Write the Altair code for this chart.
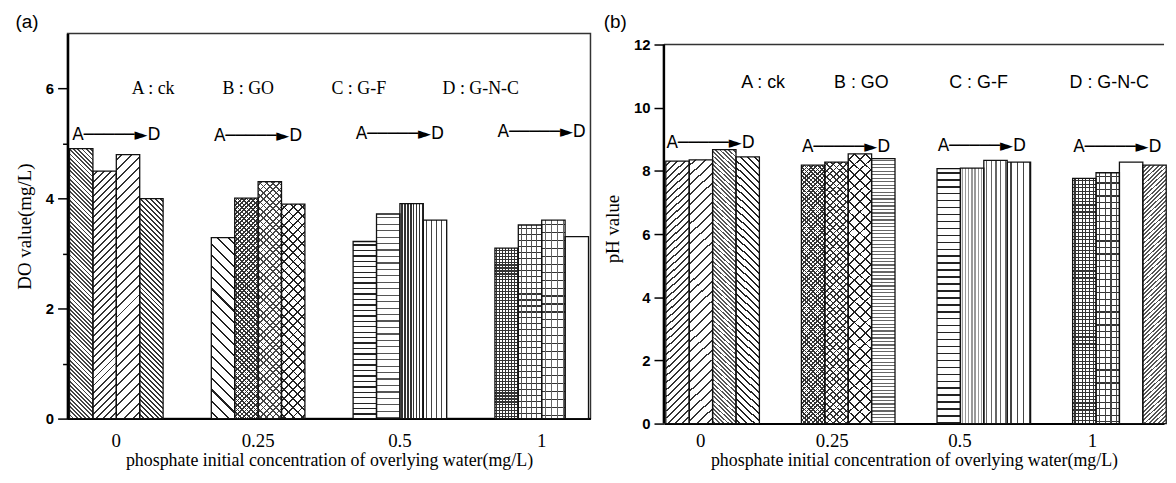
import math
import altair as alt

# ---------------- data ----------------
groups = ["0", "0.25", "0.5", "1"]
treatments = ["A", "B", "C", "D"]

do_A = [4.91, 3.29, 3.22, 3.10]
do_B = [4.50, 4.01, 3.72, 3.52]
do_C = [4.80, 4.31, 3.91, 3.61]
do_D = [4.00, 3.90, 3.61, 3.31]

ph_A = [8.31, 8.18, 8.07, 7.76]
ph_B = [8.35, 8.28, 8.09, 7.94]
ph_C = [8.67, 8.54, 8.33, 8.28]
ph_D = [8.44, 8.39, 8.28, 8.18]

key_labels = ["A : ck", "B : GO", "C : G-F", "D : G-N-C"]
arrow_text = "A\u2500\u2500\u2500\u2500\u2500\u25BAD"
x_title = "phosphate initial concentration of  overlying water(mg/L)"

# annotation anchors (data units)
do_key_y = 6.0
ph_key_y = 10.78
do_arrow_y = [5.15, 5.13, 5.18, 5.21]
ph_arrow_y = [8.87, 8.77, 8.80, 8.77]

# ---------------- layout / style ----------------
PI, PO = 0.34, 0.014
W1, H1 = 527, 388
W2, H2 = 504, 393
do_key_x = [0.26, 0.93, 1.71, 2.57]      # in group-step units
ph_key_x = [0.388, 1.112, 1.976, 2.94]

SQ2 = math.sqrt(2)


def grad(kind, period, thick, color, w, h, bg="#ffffff"):
    if kind == "h":
        x1, y1, x2, y2, L, P, T = 0, 0, 0, 1, h, period, thick
    elif kind == "v":
        x1, y1, x2, y2, L, P, T = 0, 0, 1, 0, w, period, thick
    else:
        k = (w + h) / (w * w + h * h)
        L, P, T = w + h, period * SQ2, thick * SQ2
        if kind == "d1":   # '/'
            x1, y1, x2, y2 = 0, 0, w * k, h * k
        else:              # '\'
            x1, y1, x2, y2 = 1, 0, 1 - w * k, h * k
    stops = [{"offset": 0, "color": bg}]
    pos = P / 2
    while pos < L:
        a = round(pos / L, 5)
        b = round(min((pos + T) / L, 1.0), 5)
        stops += [{"offset": a, "color": bg}, {"offset": a, "color": color},
                  {"offset": b, "color": color}, {"offset": b, "color": bg}]
        pos += P
    stops.append({"offset": 1, "color": bg})
    return {"gradient": "linear", "x1": round(x1, 5), "y1": round(y1, 5),
            "x2": round(x2, 5), "y2": round(y2, 5), "stops": stops}


pat_a = {
    (0, "A"): [("d2", 3.0, 1.3, "#444")],
    (0, "B"): [("d1", 5.0, 1.4, "#333")],
    (0, "C"): [("d1", 7.0, 1.4, "#333")],
    (0, "D"): [("d2", 3.5, 1.4, "#333")],
    (1, "A"): [("d2", 8.0, 1.5, "#222")],
    (1, "B"): [("d1", 3.2, 1.2, "#333"), ("d2", 3.2, 1.2, "#333")],
    (1, "C"): [("d1", 4.5, 1.2, "#444"), ("d2", 4.5, 1.2, "#444")],
    (1, "D"): [("d1", 6.5, 1.3, "#222"), ("d2", 6.5, 1.3, "#222")],
    (2, "A"): [("h", 5.5, 1.4, "#222")],
    (2, "B"): [("h", 6.5, 1.2, "#555")],
    (2, "C"): [("v", 3.0, 1.2, "#333")],
    (2, "D"): [("v", 5.0, 1.2, "#444")],
    (3, "A"): [("h", 3.0, 1.1, "#333"), ("v", 3.0, 1.1, "#333")],
    (3, "B"): [("h", 6.0, 1.2, "#333"), ("v", 5.0, 1.2, "#555")],
    (3, "C"): [("h", 8.0, 1.2, "#333"), ("v", 6.0, 1.2, "#666")],
    (3, "D"): [],
}
pat_b = {
    (0, "A"): [("d1", 5.0, 1.4, "#333")],
    (0, "B"): [("d1", 7.0, 1.4, "#333")],
    (0, "C"): [("d2", 3.0, 1.3, "#555")],
    (0, "D"): [("d2", 5.0, 1.4, "#222")],
    (1, "A"): [("d1", 3.0, 1.1, "#333"), ("d2", 3.0, 1.1, "#333")],
    (1, "B"): [("d1", 4.5, 1.2, "#333"), ("d2", 4.5, 1.2, "#333")],
    (1, "C"): [("d1", 7.5, 1.3, "#222"), ("d2", 7.5, 1.3, "#222")],
    (1, "D"): [("h", 3.5, 1.2, "#666")],
    (2, "A"): [("h", 7.0, 1.5, "#222")],
    (2, "B"): [("v", 3.0, 1.2, "#999")],
    (2, "C"): [("v", 4.5, 1.2, "#666")],
    (2, "D"): [("v", 6.0, 1.3, "#444")],
    (3, "A"): [("h", 3.5, 1.1, "#333"), ("v", 3.5, 1.1, "#333")],
    (3, "B"): [("h", 6.5, 1.2, "#333"), ("v", 5.5, 1.2, "#444")],
    (3, "C"): [],
    (3, "D"): [("d1", 3.0, 1.3, "#555")],
}


def build_panel(series, pats, W, H, ytop, ymax, ytitle, key_x, key_y, arrow_y,
                key_font, title_text, label_pad, title_pad, x_label_offset, own_frame):
    step = W / (len(groups) - PI + 2 * PO)
    bar_w = step * (1 - PI) / len(treatments)
    rows = []
    for gi, g in enumerate(groups):
        for t in treatments:
            v = series[t][gi]
            h = v / ymax * H
            comps = pats[(gi, t)]
            g1 = grad(*comps[0], w=bar_w, h=h) if comps else "#ffffff"
            g2 = grad(*comps[1], w=bar_w, h=h, bg="rgba(255,255,255,0)") if len(comps) > 1 else None
            rows.append({"grp": g, "trt": t, "val": v, "g1": g1, "g2": g2})

    xaxis = alt.Axis(labelAngle=0, ticks=False, tickSize=0, labelPadding=label_pad,
                     titlePadding=title_pad, labelOffset=x_label_offset)
    xdef = alt.X("grp:N", scale=alt.Scale(domain=groups, paddingInner=PI, paddingOuter=PO),
                 axis=xaxis, title=x_title)
    xo = alt.XOffset("trt:N", scale=alt.Scale(domain=treatments, paddingInner=0, paddingOuter=0))
    yaxis = alt.Axis(values=list(range(0, ytop + 1)) if own_frame else list(range(0, ytop)),
                     labelExpr="datum.value % 2 === 0 ? datum.label : ''",
                     tickSize={"condition": {"test": "datum.value % 2 === 0", "value": 10}, "value": 5},
                     labelPadding=4, titlePadding=11, domain=not own_frame)
    ydef = alt.Y("val:Q", scale=alt.Scale(domain=[0, ymax], nice=False), axis=yaxis, title=ytitle)

    bars = alt.Chart(alt.Data(values=rows))
    base = bars.mark_bar(strokeWidth=0).encode(x=xdef, xOffset=xo, y=ydef,
                                               fill=alt.Fill("g1:N", scale=None))
    over = bars.transform_filter("datum.g2 != null").mark_bar(strokeWidth=0).encode(
        x=xdef, xOffset=xo, y=ydef, fill=alt.Fill("g2:N", scale=None))
    outline = bars.mark_bar(fillOpacity=0, stroke="#111", strokeWidth=1.3).encode(
        x=xdef, xOffset=xo, y=ydef)

    arrows = alt.Chart(alt.Data(values=[{"grp": g, "val": y, "label": arrow_text}
                                        for g, y in zip(groups, arrow_y)])).mark_text(
        font="DejaVu Sans", fontSize=17, baseline="middle", align="center", color="black"
    ).encode(x=xdef, y=ydef, text="label:N")

    layers = [base, over, outline, arrows]
    if own_frame:
        frame = alt.Chart(alt.Data(values=[{"val": ytop}]))
        top_line = frame.mark_rule(color="#333", strokeWidth=1.5).encode(y=ydef)
        axis_line = frame.mark_rule(color="black", strokeWidth=2.5).encode(
            x=alt.value(0), y=alt.datum(0), y2=alt.datum(ytop))
        layers += [top_line, axis_line]

    k0 = -(PO + (1 - PI) / 2)
    k1 = W / step + k0
    keys = alt.Chart(alt.Data(values=[{"kx": kx, "val": key_y, "label": lab}
                                      for kx, lab in zip(key_x, key_labels)])).mark_text(
        font=key_font, fontSize=18, baseline="middle", align="center", color="black"
    ).encode(x=alt.X("kx:Q", scale=alt.Scale(domain=[k0, k1], nice=False, zero=False), axis=None),
             y=ydef, text="label:N")

    inner = alt.layer(*layers)
    props = dict(width=W, height=H,
                 title=alt.TitleParams(title_text, anchor="start", frame="bounds", offset=2,
                                       font="Liberation Sans", fontSize=19, fontWeight="normal",
                                       color="black"))
    if own_frame:
        props["view"] = alt.ViewBackground(stroke="transparent")
    return alt.layer(inner, keys).resolve_scale(x="independent").properties(**props)


left = build_panel({"A": do_A, "B": do_B, "C": do_C, "D": do_D}, pat_a, W1, H1, 7, 7,
                   "DO value(mg/L)", do_key_x, do_key_y, do_arrow_y,
                   "Liberation Serif", "(a)", 13, 1, 0, False)

right_offsets = {"condition": [{"test": "datum.value === '0'", "value": -10},
                               {"test": "datum.value === '0.25'", "value": -14},
                               {"test": "datum.value === '0.5'", "value": -22}],
                 "value": -25}
right = build_panel({"A": ph_A, "B": ph_B, "C": ph_C, "D": ph_D}, pat_b, W2, H2, 12, 12 * 393 / 382,
                    "pH value", ph_key_x, ph_key_y, ph_arrow_y,
                    "Liberation Sans", "(b)", 8, 1, right_offsets, True)

chart = alt.hconcat(left, right, spacing=11).properties(
    padding={"left": 6, "top": 2, "right": 0, "bottom": 0}, background="white"
).configure_view(stroke="#333", strokeWidth=1.5).configure_axis(
    domainColor="black", tickColor="black", labelColor="black", titleColor="black", grid=False
).configure_axisY(
    domainWidth=2.5, tickWidth=1.5, labelFont="Liberation Sans", labelFontSize=15,
    labelFontWeight="bold", titleFont="Liberation Serif", titleFontSize=19, titleFontWeight="normal"
).configure_axisX(
    domainWidth=2, labelFont="Liberation Serif", labelFontSize=19, titleFont="Liberation Serif",
    titleFontSize=18, titleFontWeight="normal"
)

chart.save("out.html", embed_options={"renderer": "svg", "actions": False})
